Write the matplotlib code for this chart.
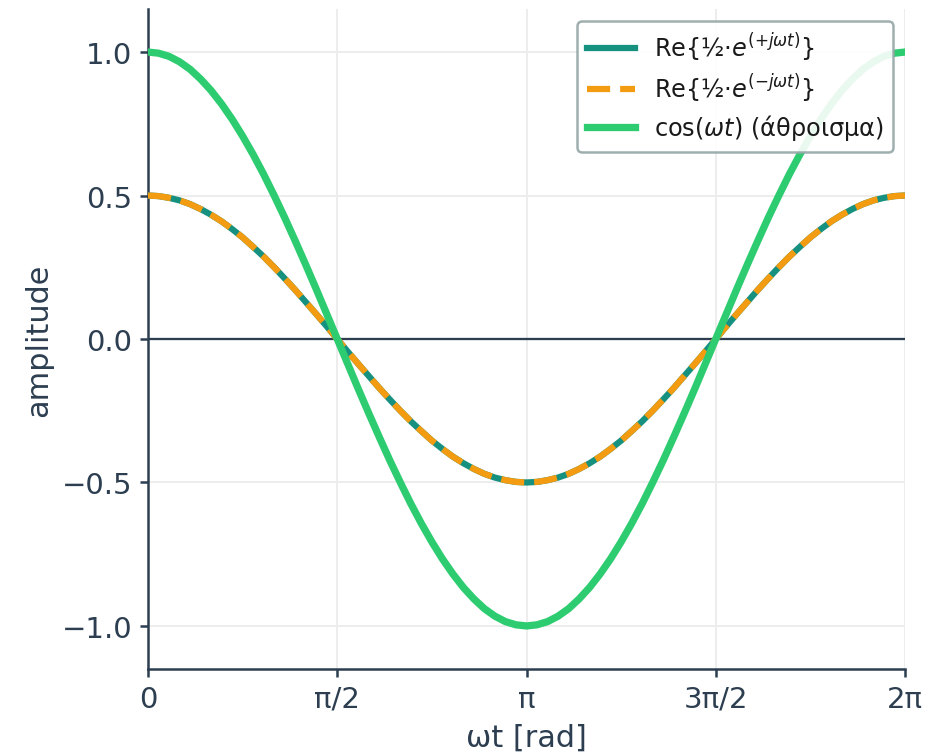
import numpy as np
import matplotlib.pyplot as plt

# phase samples in degrees, every 5 deg over one period
wt_deg = list(range(0, 361, 5))

# Re{1/2 e^(+jwt)}
pos_half = [0.5, 0.498, 0.492, 0.483, 0.470, 0.453, 0.433, 0.410, 0.383, 0.354, 0.321, 0.287,
            0.25, 0.211, 0.171, 0.129, 0.087, 0.044, 0.0,
            -0.044, -0.087, -0.129, -0.171, -0.211, -0.25, -0.287, -0.321, -0.354, -0.383,
            -0.410, -0.433, -0.453, -0.470, -0.483, -0.492, -0.498, -0.5,
            -0.498, -0.492, -0.483, -0.470, -0.453, -0.433, -0.410, -0.383, -0.354, -0.321,
            -0.287, -0.25, -0.211, -0.171, -0.129, -0.087, -0.044, 0.0,
            0.044, 0.087, 0.129, 0.171, 0.211, 0.25, 0.287, 0.321, 0.354, 0.383,
            0.410, 0.433, 0.453, 0.470, 0.483, 0.492, 0.498, 0.5]
# Re{1/2 e^(-jwt)}
neg_half = [0.5, 0.498, 0.492, 0.483, 0.470, 0.453, 0.433, 0.410, 0.383, 0.354, 0.321, 0.287,
            0.25, 0.211, 0.171, 0.129, 0.087, 0.044, 0.0,
            -0.044, -0.087, -0.129, -0.171, -0.211, -0.25, -0.287, -0.321, -0.354, -0.383,
            -0.410, -0.433, -0.453, -0.470, -0.483, -0.492, -0.498, -0.5,
            -0.498, -0.492, -0.483, -0.470, -0.453, -0.433, -0.410, -0.383, -0.354, -0.321,
            -0.287, -0.25, -0.211, -0.171, -0.129, -0.087, -0.044, 0.0,
            0.044, 0.087, 0.129, 0.171, 0.211, 0.25, 0.287, 0.321, 0.354, 0.383,
            0.410, 0.433, 0.453, 0.470, 0.483, 0.492, 0.498, 0.5]
# sum of the two
cos_sum = [1.0, 0.996, 0.985, 0.966, 0.940, 0.906, 0.866, 0.819, 0.766, 0.707, 0.643, 0.574,
           0.5, 0.423, 0.342, 0.259, 0.174, 0.087, 0.0,
           -0.087, -0.174, -0.259, -0.342, -0.423, -0.5, -0.574, -0.643, -0.707, -0.766,
           -0.819, -0.866, -0.906, -0.940, -0.966, -0.985, -0.996, -1.0,
           -0.996, -0.985, -0.966, -0.940, -0.906, -0.866, -0.819, -0.766, -0.707, -0.643,
           -0.574, -0.5, -0.423, -0.342, -0.259, -0.174, -0.087, 0.0,
           0.087, 0.174, 0.259, 0.342, 0.423, 0.5, 0.574, 0.643, 0.707, 0.766,
           0.819, 0.866, 0.906, 0.940, 0.966, 0.985, 0.996, 1.0]

xtick_pos = [0, 90, 180, 270, 360]
xtick_labels = ["0", "π/2", "π", "3π/2", "2π"]
ytick_pos = [-1.0, -0.5, 0.0, 0.5, 1.0]

dark = "#2c3e50"
plt.rcParams["font.family"] = ["DejaVu Sans"]
plt.rcParams["text.color"] = dark
plt.rcParams["axes.labelcolor"] = dark
plt.rcParams["xtick.color"] = dark
plt.rcParams["ytick.color"] = dark

x = np.deg2rad(wt_deg)

fig = plt.figure(figsize=(935 / 150, 753 / 150), dpi=150)
ax = fig.add_axes([148 / 935, 1 - 670 / 753, (905 - 148) / 935, (670 - 10) / 753])

ax.plot(x, pos_half, color="#17917f", lw=3, label="Re{½·$e^{(+j\\omega t)}$}", zorder=3)
ax.plot(x, neg_half, color="#f39c12", lw=3, ls="--", label="Re{½·$e^{(-j\\omega t)}$}", zorder=4)
ax.plot(x, cos_sum, color="#2ecc71", lw=3.5, label="cos($\\omega t$) (άθροισμα)", zorder=5)
ax.axhline(0, color=dark, lw=1.1, zorder=2)

ax.set_xlim(0, 2 * np.pi)
ax.set_ylim(-1.15, 1.15)
ax.set_xticks(np.deg2rad(xtick_pos))
ax.set_xticklabels(xtick_labels)
ax.set_yticks(ytick_pos)
ax.tick_params(labelsize=14, width=1.2, length=4)
ax.grid(True, color="#ececec", lw=0.9)
ax.set_axisbelow(True)

for s in ["top", "right"]:
    ax.spines[s].set_visible(False)
for s in ["left", "bottom"]:
    ax.spines[s].set_color(dark)
    ax.spines[s].set_linewidth(1.2)

ax.set_xlabel("ωt [rad]", fontsize=14.5, labelpad=5)
ax.set_ylabel("amplitude", fontsize=14.5)

leg = ax.legend(loc="upper right", fontsize=11.5, framealpha=0.9, edgecolor="#95a5a6",
                fancybox=True, labelspacing=0.35, labelcolor="#1a1a1a")
leg.get_frame().set_linewidth(1.2)
leg.set_zorder(10)

fig.savefig("out.png", dpi=150)
